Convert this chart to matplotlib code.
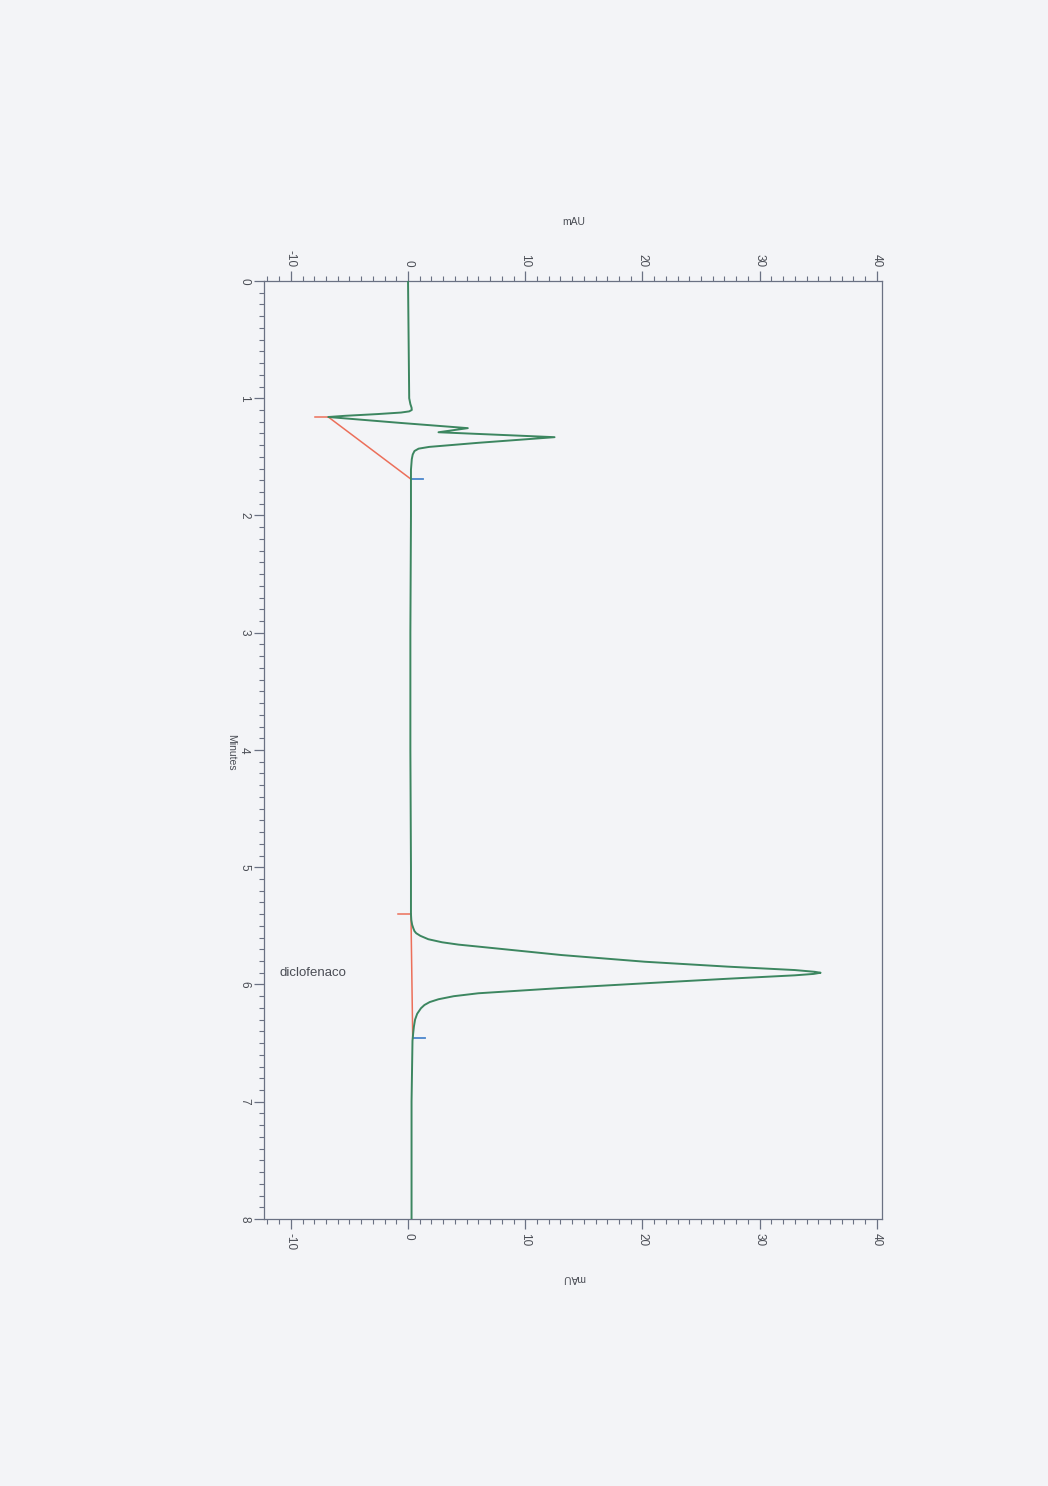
import numpy as np
import matplotlib.pyplot as plt
from matplotlib.ticker import MultipleLocator

# chromatogram trace (minutes, mAU)
time_min = [0.00, 0.50, 1.00, 1.05, 1.08, 1.10, 1.112, 1.122, 1.135, 1.15, 1.16,
            1.21, 1.255, 1.29, 1.332, 1.38, 1.415, 1.43, 1.45, 1.48, 1.52, 1.61,
            2.00, 3.00, 4.00, 5.00, 5.40, 5.45, 5.49, 5.52, 5.545, 5.563,
            5.585, 5.614, 5.64, 5.66, 5.677, 5.749, 5.806, 5.848, 5.877,
            5.892, 5.90, 5.91, 5.922, 5.951, 5.99, 6.03, 6.075, 6.10, 6.126,
            6.15, 6.175, 6.203, 6.25, 6.30, 6.36, 6.416, 6.48, 7.00, 8.00]
signal_mau = [0.00, 0.05, 0.10, 0.20, 0.30, 0.32, 0.10, -0.60, -2.60, -5.40, -6.80,
              -0.70, 5.10, 2.60, 12.50, 6.00, 1.80, 0.90, 0.55, 0.40, 0.32, 0.25,
              0.25, 0.20, 0.20, 0.25, 0.25, 0.28, 0.35, 0.45, 0.55, 0.70,
              1.05, 1.73, 2.90, 4.30, 6.00, 13.10, 20.20, 27.30, 33.00,
              34.70, 35.20, 34.60, 33.00, 27.30, 20.20, 13.10, 6.00, 3.90, 2.60,
              1.85, 1.40, 1.10, 0.78, 0.60, 0.50, 0.44, 0.38, 0.30, 0.30]

# integration baselines: start/end of each peak
peak_start_t = [1.16, 5.40]
peak_start_y = [-6.80, 0.25]
peak_end_t = [1.69, 6.46]
peak_end_y = [0.25, 0.40]
peak_name = "diclofenaco"
peak_name_t = 5.90

mau_ticks = [-10, 0, 10, 20, 30, 40]
min_ticks = [0, 1, 2, 3, 4, 5, 6, 7, 8]

paper = "#f3f4f7"
axis_col = "#6a7183"
text_col = "#4a4d55"

plt.rcParams["font.family"] = ["Liberation Sans", "DejaVu Sans"]

fig = plt.figure(figsize=(10.48, 14.86), dpi=100, facecolor=paper)
ax = fig.add_axes([0.2519, 0.1797, 0.5897, 0.6312])
ax.set_facecolor(paper)

ax.plot(signal_mau, time_min, color="#3c8660", lw=1.4, zorder=3)

for ts, ys, te, ye in zip(peak_start_t, peak_start_y, peak_end_t, peak_end_y):
    ax.plot([ys, ye], [ts, te], color="#ec6f5a", lw=1.1, zorder=2)
    ax.plot([ys - 1.1, ys], [ts, ts], color="#ec6f5a", lw=1.1, zorder=2)
    ax.plot([ye, ye + 1.05], [te, te], color="#4a86cc", lw=1.3, zorder=2)

ax.text(-11.0, peak_name_t, peak_name, fontsize=9.5, color=text_col,
        va="center", ha="left")

ax.set_xlim(-12.29, 40.44)
ax.set_ylim(8, 0)

ax.set_xticks(mau_ticks)
ax.set_xticklabels([str(v) for v in mau_ticks], rotation=270)
ax.set_yticks(min_ticks)
ax.set_yticklabels([str(v) for v in min_ticks], rotation=270, va="center")
ax.xaxis.set_minor_locator(MultipleLocator(1))
ax.yaxis.set_minor_locator(MultipleLocator(0.1))

ax.tick_params(axis="x", which="both", top=True, bottom=True,
               labeltop=True, labelbottom=True, direction="out",
               colors=axis_col, labelcolor=text_col, labelsize=8.5, pad=3)
ax.tick_params(axis="y", which="both", left=True, right=False,
               direction="out", colors=axis_col, labelcolor=text_col,
               labelsize=8.5, pad=3)
ax.tick_params(which="major", length=7, width=0.9)
ax.tick_params(which="minor", length=3.5, width=0.8)

for s in ax.spines.values():
    s.set_color(axis_col)
    s.set_linewidth(0.9)

fig.text(574 / 1048, 1 - 222 / 1486, "mAU", fontsize=7.5, color=text_col,
         ha="center", va="center")
fig.text(574 / 1048, 1 - 1278 / 1486, "mAU", fontsize=7.5, color=text_col,
         ha="center", va="center", rotation=180)
fig.text(231 / 1048, 1 - 752 / 1486, "Minutes", fontsize=7.5, color=text_col,
         ha="center", va="center", rotation=270)

fig.savefig("out.png", dpi=100, facecolor=paper)
